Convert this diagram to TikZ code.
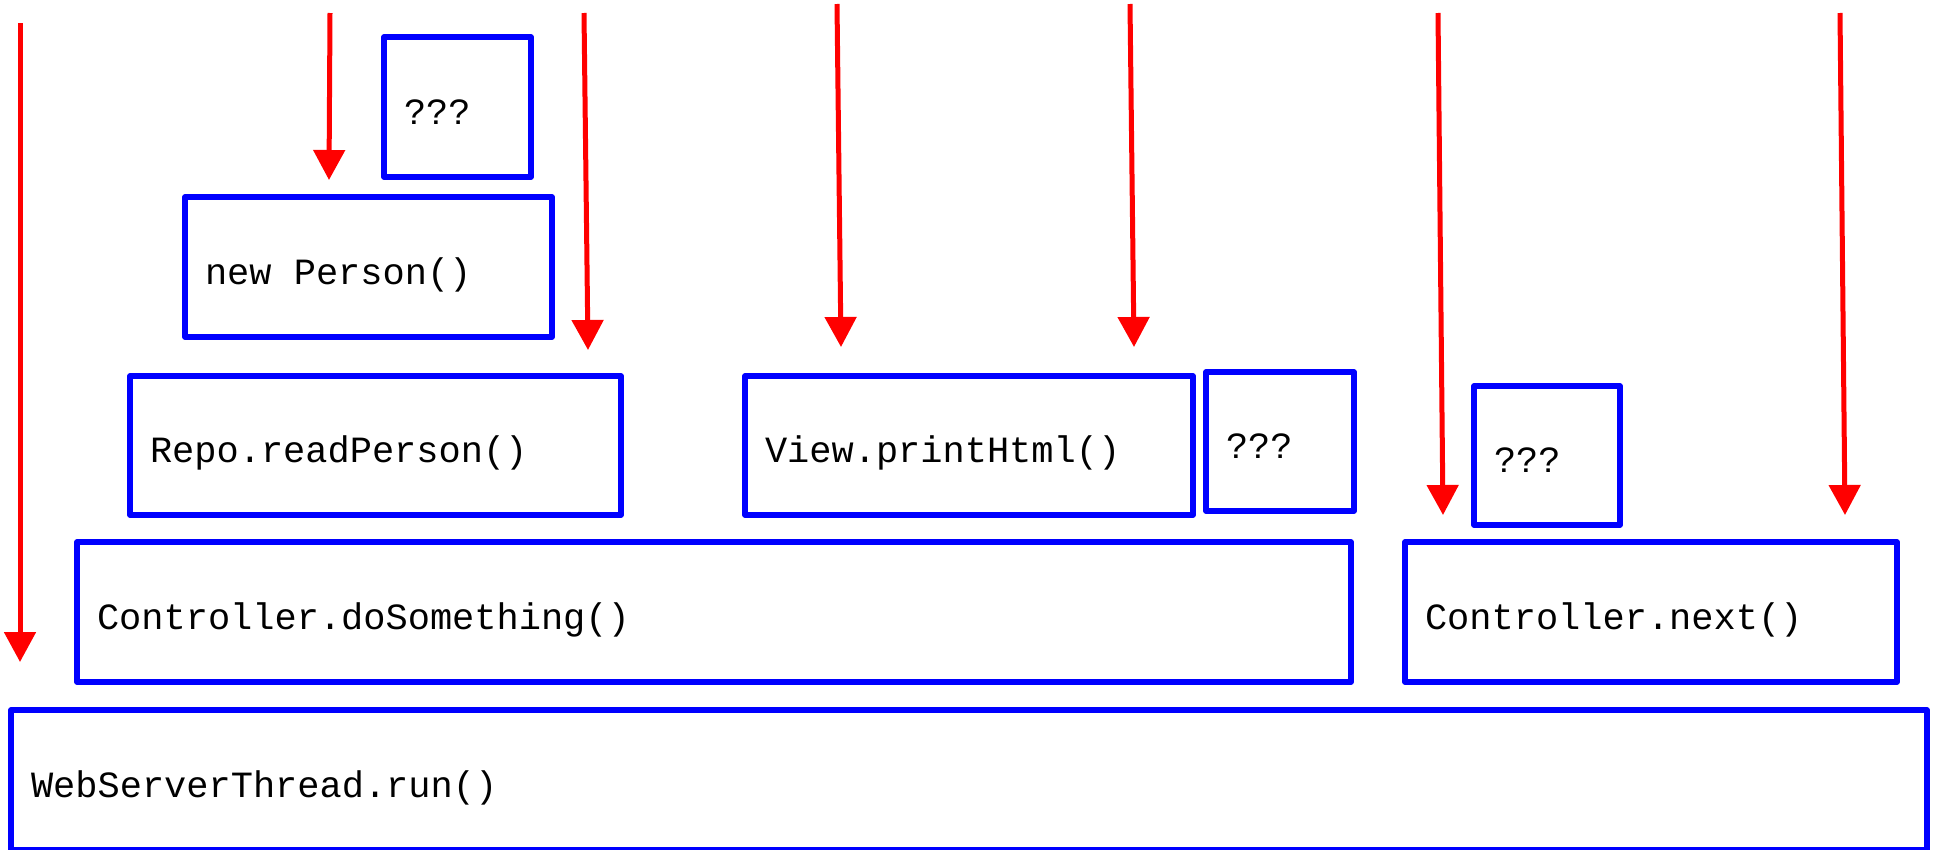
\documentclass[tikz,border=0pt]{standalone}
\usepackage{fontspec}
\setmonofont{Liberation Mono}
\usetikzlibrary{arrows.meta}
\definecolor{framecol}{RGB}{0,0,255}
\definecolor{flowcol}{RGB}{255,0,0}
% one full monospace cell between words
\newcommand{\cellspace}{\hspace{0.6em}}
\begin{document}
\begin{tikzpicture}[x=1pt,y=-1pt,
  callbox/.style={draw=framecol, line width=5.5pt, line join=round,
    font=\ttfamily\fontsize{37}{44}\selectfont, inner xsep=20pt, inner ysep=0pt,
    text height=34pt, text depth=0pt,
    align=left, minimum height=140pt},
  flow/.style={draw=flowcol, line width=5pt,
    -{Triangle[length=30pt,width=31pt]}}]
\useasboundingbox (0,0) rectangle (1937,849);

% call frames, bottom of the stack first
\node[callbox, text width=1876pt] (web)    at (969,780)   {WebServerThread.run()};
\node[callbox, text width=1234pt] (ctrl)   at (714,612)   {Controller.doSomething()};
\node[callbox, text width=452pt]  (next)   at (1651,612)  {Controller.next()};
\node[callbox, text width=451pt, minimum height=139pt] (repo) at (375.5,445.5) {Repo.readPerson()};
\node[callbox, text width=408pt, minimum height=139pt] (view) at (969,445.5)   {View.printHtml()};
\node[callbox, text width=108pt, minimum height=139pt] (q2)   at (1280,441.5)  {???};
\node[callbox, text width=106pt, minimum height=139pt] (q3)   at (1547,455.5)  {???};
\node[callbox, text width=327pt]  (person) at (368.5,267) {new\cellspace Person()};
\node[callbox, text width=107pt]  (q1)     at (457.5,107) {???};

% time arrows
\coordinate (a0) at (20,23);    \coordinate (a1) at (20,662);
\coordinate (b0) at (330,13);   \coordinate (b1) at (329,180);
\coordinate (c0) at (584,13);   \coordinate (c1) at (588,350);
\coordinate (d0) at (837,4);    \coordinate (d1) at (841,347);
\coordinate (e0) at (1130,4);   \coordinate (e1) at (1134,347);
\coordinate (f0) at (1438,13);  \coordinate (f1) at (1443,515);
\coordinate (g0) at (1840,13);  \coordinate (g1) at (1845,515);
\foreach \s/\t in {a0/a1,b0/b1,c0/c1,d0/d1,e0/e1,f0/f1,g0/g1}
  \draw[flow] (\s) -- (\t);
\end{tikzpicture}
\end{document}
